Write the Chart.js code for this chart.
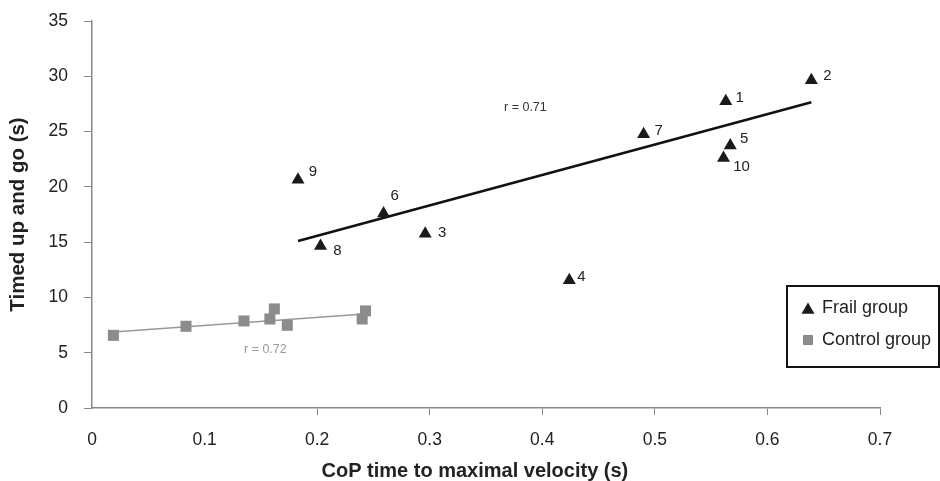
<!DOCTYPE html>
<html>
<head>
<meta charset="utf-8">
<script src="https://cdn.jsdelivr.net/npm/chart.js@4"></script>
<style>
  html, body { margin: 0; padding: 0; background: #fff; }
  #wrap { width: 940px; height: 481px; }
</style>
</head>
<body>
<div id="wrap"><canvas id="chart" width="940" height="481"></canvas></div>
<script>
// frail group, patients 1..10
const frailIds = ['1', '2', '3', '4', '5', '6', '7', '8', '9', '10'];
const frailX = [0.563, 0.639, 0.296, 0.424, 0.567, 0.259, 0.490, 0.203, 0.183, 0.561];
const frailY = [27.75, 29.65, 15.75, 11.55, 23.75, 17.6, 24.75, 14.65, 20.65, 22.6];

// control group
const controlX = [0.019, 0.0835, 0.135, 0.158, 0.162, 0.1735, 0.240, 0.243];
const controlY = [6.57, 7.39, 7.87, 8.05, 8.96, 7.48, 8.05, 8.78];

// regression lines
const frailFitX = [0.183, 0.639];
const frailFitY = [15.1, 27.65];
const controlFitX = [0.019, 0.242];
const controlFitY = [6.87, 8.5];

const xTickLabels = ['0', '0.1', '0.2', '0.3', '0.4', '0.5', '0.6', '0.7'];
const yTickLabels = ['0', '5', '10', '15', '20', '25', '30', '35'];

const rFrail = { text: 'r = 0.71', x: 0.385, y: 27.2 };
const rControl = { text: 'r = 0.72', x: 0.154, y: 5.3 };

// pixel nudges for the patient numbers (dx, dy from marker)
const idOffsets = [[14, -3], [16, -4], [17, -1], [12, -3], [14, -7], [11, -18], [15, -3], [17, 5], [15, -8], [18, 9]];

const pts = (xs, ys) => xs.map((x, i) => ({ x: x, y: ys[i] }));

const FONT = "'Liberation Sans', Arial, sans-serif";

const labelsPlugin = {
    id: 'pointLabels',
    afterDatasetsDraw(chart) {
        const ctx = chart.ctx;
        const meta = chart.getDatasetMeta(0);
        ctx.save();
        ctx.font = '15px ' + FONT;
        ctx.fillStyle = '#222';
        ctx.textAlign = 'center';
        ctx.textBaseline = 'middle';
        meta.data.forEach((el, i) => {
            ctx.fillText(frailIds[i], el.x + idOffsets[i][0], el.y + idOffsets[i][1]);
        });
        const xs = chart.scales.x, ys = chart.scales.y;
        ctx.font = '12.5px ' + FONT;
        ctx.fillStyle = '#333';
        ctx.fillText(rFrail.text, xs.getPixelForValue(rFrail.x), ys.getPixelForValue(rFrail.y));
        ctx.fillStyle = '#999';
        ctx.fillText(rControl.text, xs.getPixelForValue(rControl.x), ys.getPixelForValue(rControl.y));
        ctx.restore();
    }
};

const legendBox = {
    id: 'legendBox',
    afterDraw(chart) {
        const ctx = chart.ctx;
        ctx.save();
        ctx.fillStyle = '#fff';
        ctx.fillRect(787, 286, 152, 81);
        ctx.lineWidth = 2;
        ctx.strokeStyle = '#111';
        ctx.strokeRect(787, 286, 152, 81);
        [0, 1].forEach((di, k) => {
            const ds = chart.data.datasets[di];
            const y = 308 + k * 32;
            Chart.helpers.drawPoint(ctx, {
                pointStyle: ds.pointStyle,
                radius: di === 0 ? 7.5 : 6.5,
                borderWidth: 0,
                rotation: 0
            }, 808, y + (di === 0 ? 2 : 0));
            ctx.fillStyle = ds.backgroundColor;
            ctx.fill();
            ctx.fillStyle = '#222';
            ctx.font = '18px ' + FONT;
            ctx.textAlign = 'left';
            ctx.textBaseline = 'middle';
            ctx.fillText(ds.label, 822, y);
        });
        ctx.restore();
    }
};

new Chart(document.getElementById('chart'), {
    type: 'scatter',
    data: {
        datasets: [
            {
                label: 'Frail group',
                data: pts(frailX, frailY),
                pointStyle: 'triangle',
                pointRadius: 7.5,
                backgroundColor: '#1a1a1a',
                borderColor: '#1a1a1a',
                borderWidth: 0,
                order: 0
            },
            {
                label: 'Control group',
                data: pts(controlX, controlY),
                pointStyle: 'rect',
                pointRadius: 7.8,
                backgroundColor: '#8c8c8c',
                borderColor: '#8c8c8c',
                borderWidth: 0,
                order: 1
            },
            {
                label: 'frail fit',
                data: pts(frailFitX, frailFitY),
                showLine: true,
                pointRadius: 0,
                borderColor: '#111',
                borderWidth: 2.5,
                order: 2
            },
            {
                label: 'control fit',
                data: pts(controlFitX, controlFitY),
                showLine: true,
                pointRadius: 0,
                borderColor: '#999',
                borderWidth: 1.5,
                order: 3
            }
        ]
    },
    options: {
        responsive: false,
        animation: false,
        layout: { padding: { left: 0, right: 60, top: 21, bottom: 0 } },
        plugins: {
            legend: { display: false },
            tooltip: { enabled: false }
        },
        scales: {
            x: {
                type: 'linear',
                min: 0,
                max: 0.7,
                ticks: {
                    stepSize: 0.1,
                    color: '#222',
                    padding: 15,
                    font: { family: FONT, size: 17.5 },
                    callback: (v, i) => xTickLabels[i]
                },
                grid: {
                    drawOnChartArea: false,
                    tickLength: 7,
                    tickColor: (c) => (c.index < 2 ? 'rgba(0,0,0,0)' : '#888')
                },
                border: { color: '#888', width: 1.5 },
                title: {
                    display: true,
                    text: 'CoP time to maximal velocity (s)\u00a0\u00a0\u00a0\u00a0',
                    color: '#222',
                    font: { family: FONT, size: 20, weight: 'bold', lineHeight: 1 },
                    padding: { top: 4, bottom: 0 }
                },
                afterFit: (s) => { s.height = 73; }
            },
            y: {
                min: 0,
                max: 35,
                ticks: {
                    stepSize: 5,
                    color: '#222',
                    padding: 16,
                    font: { family: FONT, size: 17.5 },
                    callback: (v, i) => yTickLabels[i]
                },
                grid: {
                    drawOnChartArea: false,
                    tickLength: 8,
                    tickColor: '#888'
                },
                border: { color: '#888', width: 1.5 },
                title: {
                    display: true,
                    text: 'Timed up and go (s)',
                    color: '#222',
                    font: { family: FONT, size: 20.5, weight: 'bold', lineHeight: 1 },
                    padding: { top: 8, bottom: 4 }
                },
                afterFit: (s) => {
                    s.width = 92;
                    s.paddingTop = 0;
                    s.paddingBottom = 0;
                }
            }
        }
    },
    plugins: [labelsPlugin, legendBox]
});
</script>
</body>
</html>
